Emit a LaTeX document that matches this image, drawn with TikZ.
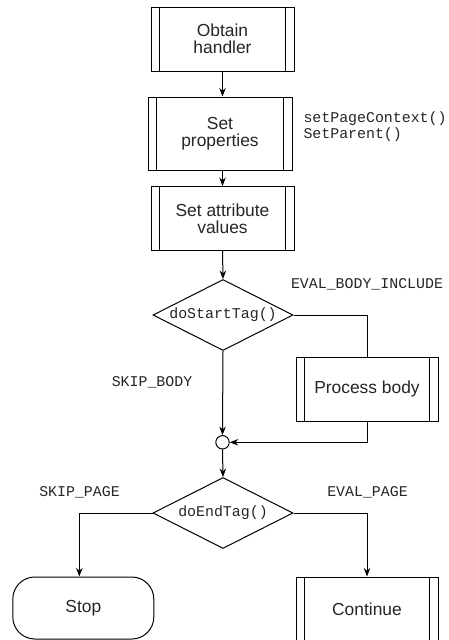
\documentclass[tikz,border=0pt]{standalone}
\usepackage{fontspec}
\setmainfont{Liberation Sans}
\setmonofont{Liberation Mono}
\usetikzlibrary{shapes.geometric,arrows.meta,calc}
\begin{document}
\begin{tikzpicture}[x=1pt,y=-1pt,line width=1pt,
  every node/.style={text=black!85},
  sansf/.style={font=\fontsize{17.4}{17}\selectfont},
  monof/.style={font=\ttfamily\fontsize{14.9}{16.5}\selectfont},
  proc/.style={draw=black,rectangle,inner sep=0pt,align=center,sansf,
    minimum width=143pt,minimum height=64pt,
    path picture={
      \draw[line width=1pt] ([xshift=8.5pt]path picture bounding box.north west) -- ([xshift=8.5pt]path picture bounding box.south west);
      \draw[line width=1pt] ([xshift=-8.5pt]path picture bounding box.north east) -- ([xshift=-8.5pt]path picture bounding box.south east);}},
  decision/.style={draw=black,diamond,aspect=1.97,minimum width=140pt,minimum height=71pt,inner sep=0pt,monof},
  term/.style={draw=black,rectangle,rounded corners=22pt,minimum width=141pt,minimum height=62pt,inner sep=0pt,sansf},
  junction/.style={draw=black,circle,minimum size=13.4pt,inner sep=0pt},
  lbl/.style={monof,inner sep=0pt},
  arr/.style={-{Stealth[length=8.5pt,width=6.5pt]}}
]
\clip (0,0) rectangle (448,640);
\fill[white] (0,0) rectangle (448,640);

\node[proc] (b1) at (222.5,39) {Obtain\\handler};
\node[proc,minimum width=144pt,minimum height=73pt] (b2) at (220,133.5) {Set\\properties};
\node[proc] (b3) at (222.5,218.5) {Set attribute\\values};
\node[decision] (d1) at (223,315) {\makebox[0pt]{doStartTag()}};
\node[proc,minimum width=142pt] (pb) at (367,389) {Process body};
\node[junction] (j) at (222.5,442.3) {};
\node[decision] (d2) at (223,513) {\makebox[0pt]{doEndTag()}};
\node[term] (stop) at (83.3,608) {Stop};
\node[proc,minimum width=142pt] (cont) at (367,609) {Continue};

\node[lbl,anchor=west,align=left] (sp) at (303,126.5) {setPageContext()\\SetParent()};
\node[lbl] (l1) at (367,284) {EVAL\_BODY\_INCLUDE};
\node[lbl] (l2) at (152,382) {SKIP\_BODY};
\node[lbl] (l3) at (79.5,492) {SKIP\_PAGE};
\node[lbl] (l4) at (367.5,492) {EVAL\_PAGE};

\draw[arr] (b1.south) -- (b1.south |- b2.north);
\draw[arr] (b1.south |- b2.south) -- (b3.north);
\draw[arr] (b3.south) -- (d1.north);
\draw (d1.east) -| (pb.north);
\draw[arr] (d1.south) -- (j.north);
\draw[arr] (pb.south) |- (j.east);
\draw[arr] (j.south) -- (d2.north);
\draw[arr] (d2.west) -| ([xshift=-4pt]stop.north);
\draw[arr] (d2.east) -| (cont.north);
\end{tikzpicture}
\end{document}
